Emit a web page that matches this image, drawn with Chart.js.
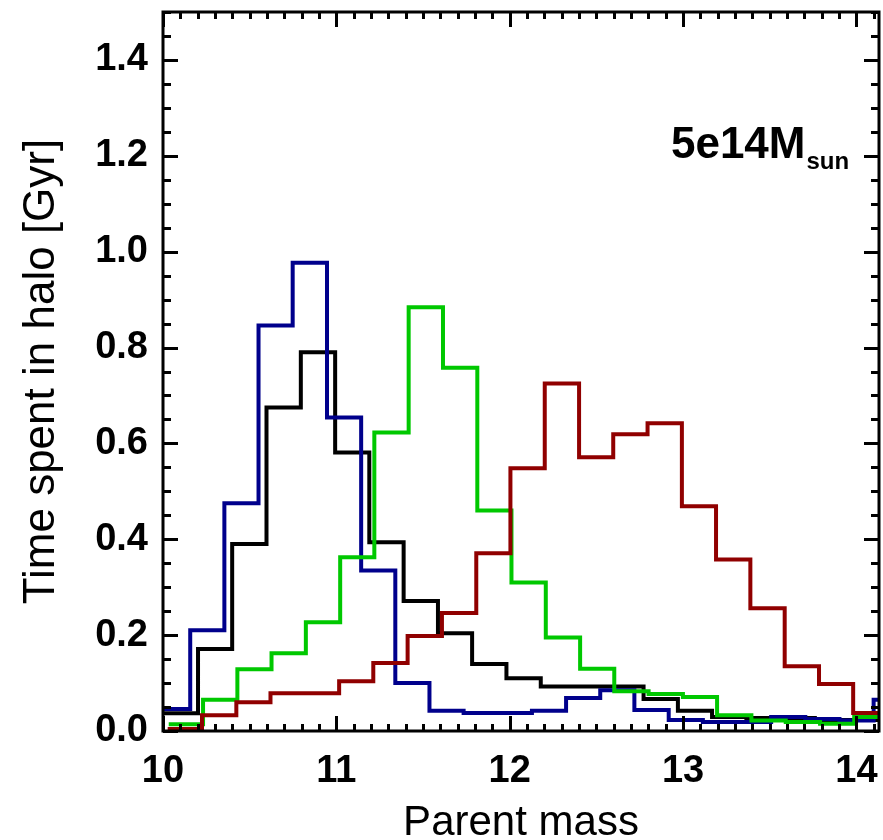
<!DOCTYPE html>
<html>
<head>
<meta charset="utf-8">
<script src="https://cdn.jsdelivr.net/npm/chart.js@4"></script>
<style>
  html, body { margin: 0; padding: 0; background: #fff; }
  #wrap { width: 883px; height: 840px; }
</style>
</head>
<body>
<div id="wrap"><canvas id="chart" width="883" height="840"></canvas></div>
<script>
// bin edges (left edges + final right edge)
const blueEdges = [9.96, 10.157, 10.354, 10.551, 10.748, 10.946, 11.143, 11.34, 11.537, 11.734, 11.931, 12.128,
  12.325, 12.522, 12.719, 12.917, 13.114, 13.311, 13.508, 13.705, 13.902, 14.099, 14.296];
const blackEdges = [10.004, 10.202, 10.399, 10.597, 10.795, 10.993, 11.19, 11.388, 11.586, 11.783, 11.981,
  12.179, 12.376, 12.574, 12.772, 12.97, 13.167, 13.365, 13.563, 13.76, 13.958, 14.156];
const greenEdges = [10.033, 10.231, 10.429, 10.626, 10.824, 11.022, 11.219, 11.417, 11.615, 11.813, 12.01,
  12.208, 12.406, 12.603, 12.801, 12.999, 13.196, 13.394, 13.592, 13.79, 13.987, 14.185];
const redEdges = [10.027, 10.225, 10.423, 10.62, 10.818, 11.016, 11.213, 11.411, 11.609, 11.807, 12.004,
  12.202, 12.4, 12.597, 12.795, 12.993, 13.19, 13.388, 13.586, 13.784, 13.981, 14.179];

// time spent in halo [Gyr] per bin
const blueVals = [0.046, 0.21, 0.475, 0.846, 0.977, 0.654, 0.335, 0.10, 0.042, 0.0375, 0.0375, 0.042,
  0.069, 0.085, 0.044, 0.023, 0.019, 0.019, 0.029, 0.025, 0.022, 0.065];
const blackVals = [0.037, 0.171, 0.39, 0.675, 0.79, 0.581, 0.394, 0.271, 0.204, 0.14, 0.11, 0.093,
  0.093, 0.093, 0.067, 0.042, 0.029, 0.027, 0.027, 0.023, 0.023];
const greenVals = [0.014, 0.065, 0.129, 0.162, 0.227, 0.3625, 0.623, 0.884, 0.758, 0.46, 0.31, 0.195,
  0.13, 0.083, 0.077, 0.071, 0.033, 0.022, 0.019, 0.015, 0.029];
const redVals = [0.004, 0.033, 0.06, 0.079, 0.079, 0.104, 0.142, 0.198, 0.246, 0.371, 0.548, 0.725,
  0.571, 0.619, 0.642, 0.469, 0.358, 0.256, 0.135, 0.098, 0.0375];

const xTicks = [10, 11, 12, 13, 14];
const yTicks = [0.0, 0.2, 0.4, 0.6, 0.8, 1.0, 1.2, 1.4];
const label = "5e14M";
const labelSub = "sun";

function steps(edges, vals) {
  const pts = vals.map((v, i) => ({ x: edges[i], y: v }));
  pts.push({ x: edges[vals.length], y: vals[vals.length - 1] });
  return pts;
}

function histSet(edges, vals, color) {
  return {
    data: steps(edges, vals),
    borderColor: color,
    borderWidth: 4,
    stepped: "before",
    pointRadius: 0,
    fill: false,
    clip: 0
  };
}

// no label overflow padding, the frame is fixed
function noPad(s) {
  s.paddingTop = 0; s.paddingBottom = 0; s.paddingLeft = 0; s.paddingRight = 0;
}

// inward ticks on all four sides + frame + annotation
const framePlugin = {
  id: "frame",
  afterDraw(chart) {
    const { ctx, chartArea: a, scales } = chart;
    const xs = scales.x, ys = scales.y;
    ctx.save();
    ctx.strokeStyle = "#000";
    ctx.lineWidth = 3;
    ctx.beginPath();
    for (let i = 0; i <= 41; i++) {
      const v = 10 + i / 10;
      if (v > xs.max) break;
      const px = Math.round(xs.getPixelForValue(v)) + 0.5;
      const len = i % 10 === 0 ? 15 : 7;
      ctx.moveTo(px, a.bottom); ctx.lineTo(px, a.bottom - len);
      ctx.moveTo(px, a.top); ctx.lineTo(px, a.top + len);
    }
    for (let i = 0; i <= 30; i++) {
      const v = i * 0.05;
      const py = Math.round(ys.getPixelForValue(v)) + 0.5;
      const len = i % 4 === 0 ? 15 : 8;
      ctx.moveTo(a.left, py); ctx.lineTo(a.left + len, py);
      ctx.moveTo(a.right, py); ctx.lineTo(a.right - len, py);
    }
    ctx.stroke();
    ctx.strokeRect(a.left, a.top, a.right - a.left, a.bottom - a.top);

    const lx = xs.getPixelForValue(12.93);
    const ly = ys.getPixelForValue(1.2) + 2;
    ctx.fillStyle = "#000";
    ctx.textBaseline = "alphabetic";
    ctx.textAlign = "left";
    ctx.font = "bold 44px 'Liberation Sans'";
    ctx.fillText(label, lx, ly);
    const w = ctx.measureText(label).width;
    ctx.font = "bold 24px 'Liberation Sans'";
    ctx.fillText(labelSub, lx + w + 1, ly + 11);
    ctx.restore();
  }
};

Chart.defaults.font.family = "'Liberation Sans'";
Chart.defaults.color = "#000";

new Chart(document.getElementById("chart"), {
  type: "line",
  data: {
    datasets: [
      histSet(redEdges, redVals, "#900000"),
      histSet(greenEdges, greenVals, "#00c800"),
      histSet(blueEdges, blueVals, "#00008c"),
      histSet(blackEdges, blackVals, "#000000")
    ]
  },
  options: {
    responsive: false,
    animation: false,
    layout: { padding: { top: 12, right: 4, left: 0, bottom: 0 } },
    plugins: { legend: { display: false }, tooltip: { enabled: false } },
    scales: {
      x: {
        type: "linear",
        min: 10,
        max: 14.13,
        afterFit: s => { s.height = 109; noPad(s); },
        afterBuildTicks: s => { s.ticks = xTicks.map(v => ({ value: v })); },
        ticks: { padding: 18, font: { size: 38, weight: "bold" }, callback: v => String(v), maxRotation: 0 },
        grid: { display: false, drawTicks: false },
        border: { display: false },
        title: { display: true, text: "Parent mass", font: { size: 42, lineHeight: 0.8 }, padding: 0 }
      },
      y: {
        min: 0,
        max: 1.5,
        afterFit: s => { s.width = 163; noPad(s); },
        afterBuildTicks: s => { s.ticks = yTicks.map(v => ({ value: v })); },
        ticks: { padding: 15, font: { size: 38, weight: "bold" }, callback: v => v.toFixed(1) },
        grid: { display: false, drawTicks: false },
        border: { display: false },
        title: { display: true, text: "Time spent in halo [Gyr]", font: { size: 44, lineHeight: 1.0 }, padding: { top: 20, bottom: 0 } }
      }
    }
  },
  plugins: [framePlugin]
});
</script>
</body>
</html>
